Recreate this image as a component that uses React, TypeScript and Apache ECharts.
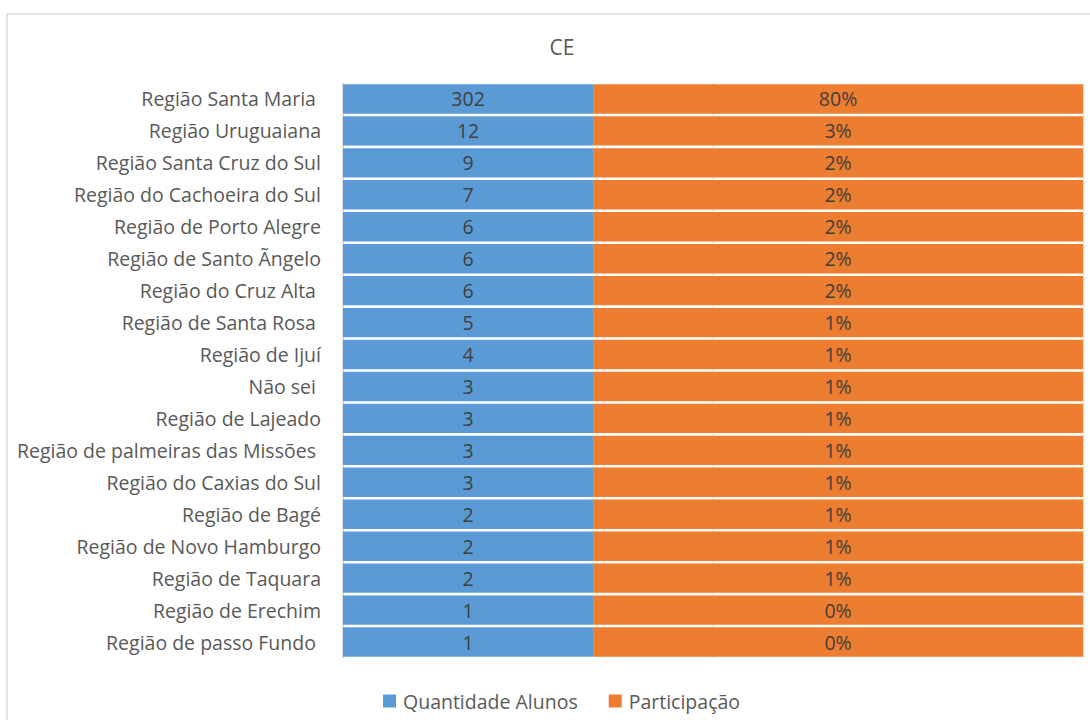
import React, { useEffect, useRef } from "react";
import * as echarts from "echarts";

const categories = [
  "Região Santa Maria ",
  "Região Uruguaiana",
  "Região Santa Cruz do Sul",
  "Região do Cachoeira do Sul",
  "Região de Porto Alegre",
  "Região de Santo Ãngelo",
  "Região do Cruz Alta ",
  "Região de Santa Rosa ",
  "Região de Ijuí",
  "Não sei ",
  "Região de Lajeado",
  "Região de palmeiras das Missões ",
  "Região do Caxias do Sul",
  "Região de Bagé",
  "Região de Novo Hamburgo",
  "Região de Taquara",
  "Região de Erechim",
  "Região de passo Fundo ",
];

const quantidadeAlunos = [302, 12, 9, 7, 6, 6, 6, 5, 4, 3, 3, 3, 3, 2, 2, 2, 1, 1];
const participacao = ["80%", "3%", "2%", "2%", "2%", "2%", "2%", "1%", "1%", "1%", "1%", "1%", "1%", "1%", "1%", "1%", "0%", "0%"];

// Each row is drawn as two equal-width segments (as in the reference):
// the blue segment spans ~33.8% of the plot and the orange one the rest.
const segmentQuantidade = [0.338, 0.338, 0.338, 0.338, 0.338, 0.338, 0.338, 0.338, 0.338, 0.338, 0.338, 0.338, 0.338, 0.338, 0.338, 0.338, 0.338, 0.338];
const segmentParticipacao = [0.662, 0.662, 0.662, 0.662, 0.662, 0.662, 0.662, 0.662, 0.662, 0.662, 0.662, 0.662, 0.662, 0.662, 0.662, 0.662, 0.662, 0.662];

const FONT = "'Open Sans', sans-serif";
const FS = 19.5;

export default function App() {
  const ref = useRef<HTMLDivElement>(null);
  useEffect(() => {
    if (!ref.current) return;
    const chart = echarts.init(ref.current, null, { renderer: "svg" });
    chart.setOption({
      animation: false,
      textStyle: { fontFamily: FONT },
      title: {
        text: "CE",
        left: 557,
        textAlign: "center",
        top: 31,
        textStyle: { fontFamily: FONT, fontSize: 21, fontWeight: "normal", color: "#595959" },
      },
      graphic: [
        {
          type: "rect",
          shape: { x: 7, y: 14, width: 1200, height: 800 },
          style: { fill: "none", stroke: "#d9d9d9", lineWidth: 1.5 },
          silent: true,
          z: -10,
        },
      ],
      legend: {
        left: 378,
        top: 686,
        itemWidth: 13,
        itemHeight: 13,
        itemGap: 31,
        icon: "rect",
        textStyle: { fontFamily: FONT, fontSize: FS, color: "#595959", padding: [0, 0, 0, 2] },
        data: ["Quantidade Alunos", "Participação"],
      },
      grid: { left: 343, right: 7, top: 83, bottom: 62, containLabel: false },
      xAxis: {
        type: "value",
        min: 0,
        max: 1,
        interval: 0.5,
        axisLabel: { show: false },
        axisLine: { show: false },
        axisTick: { show: false },
        splitLine: { show: true, lineStyle: { color: "#d9d9d9", width: 1 } },
      },
      yAxis: {
        type: "category",
        inverse: true,
        data: categories,
        axisLine: { show: true, lineStyle: { color: "#d9d9d9", width: 1.5 } },
        axisTick: { show: false },
        axisLabel: { color: "#595959", fontSize: FS, fontFamily: FONT, margin: 22 },
      },
      series: [
        {
          name: "Quantidade Alunos",
          type: "bar",
          stack: "total",
          barCategoryGap: "8%",
          itemStyle: { color: "#5B9BD5" },
          label: {
            show: true,
            position: "inside",
            color: "#404040",
            fontSize: FS,
            fontFamily: FONT,
            formatter: (p: any) => String(quantidadeAlunos[p.dataIndex]),
          },
          data: segmentQuantidade,
        },
        {
          name: "Participação",
          type: "bar",
          stack: "total",
          barCategoryGap: "8%",
          itemStyle: { color: "#ED7D31" },
          label: {
            show: true,
            position: "inside",
            color: "#404040",
            fontSize: FS,
            fontFamily: FONT,
            formatter: (p: any) => participacao[p.dataIndex],
          },
          data: segmentParticipacao,
        },
      ],
    });
    return () => chart.dispose();
  }, []);
  return (
    <div
      ref={ref}
      style={{ position: "fixed", left: 0, top: 0, width: 1090, height: 720, background: "#fff" }}
    />
  );
}
